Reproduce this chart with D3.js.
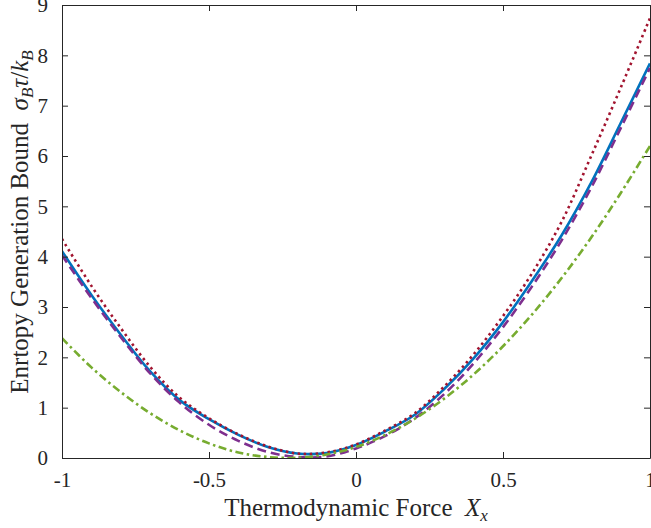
<!DOCTYPE html>
<html>
<head>
<meta charset="utf-8">
<script src="https://cdn.jsdelivr.net/npm/d3@7"></script>
<style>
  body { margin: 0; background: #fff; }
  svg text { font-family: "Liberation Serif", Tinos, "Times New Roman", Times, "DejaVu Serif", serif; fill: #262626; }
</style>
</head>
<body>
<div id="chart"></div>
<script>
var svgWidth = 651;
var svgHeight = 528;

var margin = { top: 5, right: 1, bottom: 70, left: 62 };
var width = svgWidth - margin.left - margin.right;
var height = svgHeight - margin.top - margin.bottom;
var serif = '"Liberation Serif", Tinos, "Times New Roman", Times, "DejaVu Serif", serif';

var forceX = [-1, -0.9, -0.8, -0.7, -0.6, -0.5, -0.4, -0.3, -0.2, -0.1, 0,
              0.1, 0.2, 0.3, 0.4, 0.5, 0.6, 0.7, 0.8, 0.9, 1];
var boundBlue = [4.11, 3.24, 2.45, 1.72, 1.15, 0.77, 0.46, 0.22, 0.09, 0.10, 0.26,
                 0.53, 0.86, 1.37, 1.98, 2.70, 3.53, 4.43, 5.47, 6.65, 7.84];
var boundRed = [4.35, 3.42, 2.58, 1.81, 1.20, 0.79, 0.47, 0.23, 0.09, 0.11, 0.27,
                0.55, 0.89, 1.42, 2.06, 2.82, 3.68, 4.70, 6.00, 7.35, 8.74];
var boundPurple = [4.03, 3.18, 2.40, 1.68, 1.10, 0.66, 0.34, 0.12, 0.02, 0.03, 0.19,
                   0.44, 0.79, 1.27, 1.88, 2.60, 3.42, 4.33, 5.37, 6.55, 7.75];
var boundGreen = [2.38, 1.80, 1.31, 0.89, 0.55, 0.29, 0.11, 0.02, 0.005, 0.07, 0.22,
                  0.46, 0.78, 1.18, 1.66, 2.22, 2.86, 3.58, 4.38, 5.26, 6.20];

var xTicks = [-1, -0.5, 0, 0.5, 1];
var xTickLabels = ["-1", "-0.5", "0", "0.5", "1"];
var yTicks = [0, 1, 2, 3, 4, 5, 6, 7, 8, 9];

var series = [
  { values: boundBlue, color: "#0072BD", dash: null },
  { values: boundRed, color: "#A2142F", dash: "2.5,3.5" },
  { values: boundPurple, color: "#7E2F8E", dash: "9,5" },
  { values: boundGreen, color: "#77AC30", dash: "8,3.5,2.5,3.5" }
];

var svg = d3.select("#chart")
  .append("svg")
  .attr("width", svgWidth)
  .attr("height", svgHeight);

var chartGroup = svg.append("g")
  .attr("transform", `translate(${margin.left}, ${margin.top})`);

var xScale = d3.scaleLinear().domain([-1, 1]).range([0, width]);
var yScale = d3.scaleLinear().domain([0, 9]).range([height, 0]);

chartGroup.append("clipPath").attr("id", "plotClip")
  .append("rect").attr("x", 0).attr("y", -2).attr("width", width).attr("height", height + 2);

// curves
var line = d3.line()
  .x((d, i) => xScale(forceX[i]))
  .y(d => yScale(d))
  .curve(d3.curveCatmullRom.alpha(0.5));

chartGroup.append("g")
  .attr("clip-path", "url(#plotClip)")
  .selectAll("path")
  .data(series)
  .enter()
  .append("path")
  .attr("d", d => line(d.values))
  .attr("fill", "none")
  .attr("stroke", d => d.color)
  .attr("stroke-width", 2.6)
  .attr("stroke-dasharray", d => d.dash);

// axes (box with inward ticks on every side)
var bottomAxis = d3.axisBottom(xScale).tickValues(xTicks).tickSizeInner(-6).tickSizeOuter(0)
  .tickPadding(14).tickFormat((d, i) => xTickLabels[i]);
var topAxis = d3.axisTop(xScale).tickValues(xTicks).tickSizeInner(-6).tickSizeOuter(0).tickFormat("");
var leftAxis = d3.axisLeft(yScale).tickValues(yTicks).tickSizeInner(-6).tickSizeOuter(0).tickPadding(14);
var rightAxis = d3.axisRight(yScale).tickValues(yTicks).tickSizeInner(-6).tickSizeOuter(0).tickFormat("");

function styleAxis(g) {
  g.attr("font-family", serif);
  g.selectAll(".domain").attr("stroke", "#262626").attr("stroke-width", 1);
  g.selectAll(".tick line").attr("stroke", "#262626").attr("stroke-width", 1);
  g.selectAll("text")
    .attr("font-family", serif)
    .attr("font-size", 21)
    .attr("fill", "#262626");
}

chartGroup.append("g").attr("transform", `translate(0, ${height})`).call(bottomAxis).call(styleAxis);
chartGroup.append("g").call(topAxis).call(styleAxis);
chartGroup.append("g").call(leftAxis).call(styleAxis);
chartGroup.append("g").attr("transform", `translate(${width}, 0)`).call(rightAxis).call(styleAxis);

// axis labels
var xLabel = chartGroup.append("text")
  .attr("x", width / 2)
  .attr("y", height + 58)
  .attr("text-anchor", "middle")
  .attr("font-family", serif)
  .attr("font-size", 25);
xLabel.append("tspan").text("Thermodynamic Force\u00a0\u00a0");
xLabel.append("tspan").attr("font-style", "italic").text("X");
xLabel.append("tspan").attr("font-style", "italic").attr("dy", 5).attr("font-size", 17).text("x");

var yLabel = chartGroup.append("text")
  .attr("transform", `translate(${28 - margin.left}, ${222 - margin.top}) rotate(-90)`)
  .attr("text-anchor", "middle")
  .attr("font-family", serif)
  .attr("font-size", 25);
yLabel.append("tspan").text("Enrtopy Generation Bound\u00a0\u00a0");
yLabel.append("tspan").attr("font-style", "italic").text("\u03c3");
yLabel.append("tspan").attr("font-style", "italic").attr("dy", 5).attr("font-size", 17).text("B");
yLabel.append("tspan").attr("font-style", "italic").attr("dy", -5).text("\u03c4");
yLabel.append("tspan").text("/");
yLabel.append("tspan").attr("font-style", "italic").text("k");
yLabel.append("tspan").attr("font-style", "italic").attr("dy", 5).attr("font-size", 17).text("B");
</script>
</body>
</html>
